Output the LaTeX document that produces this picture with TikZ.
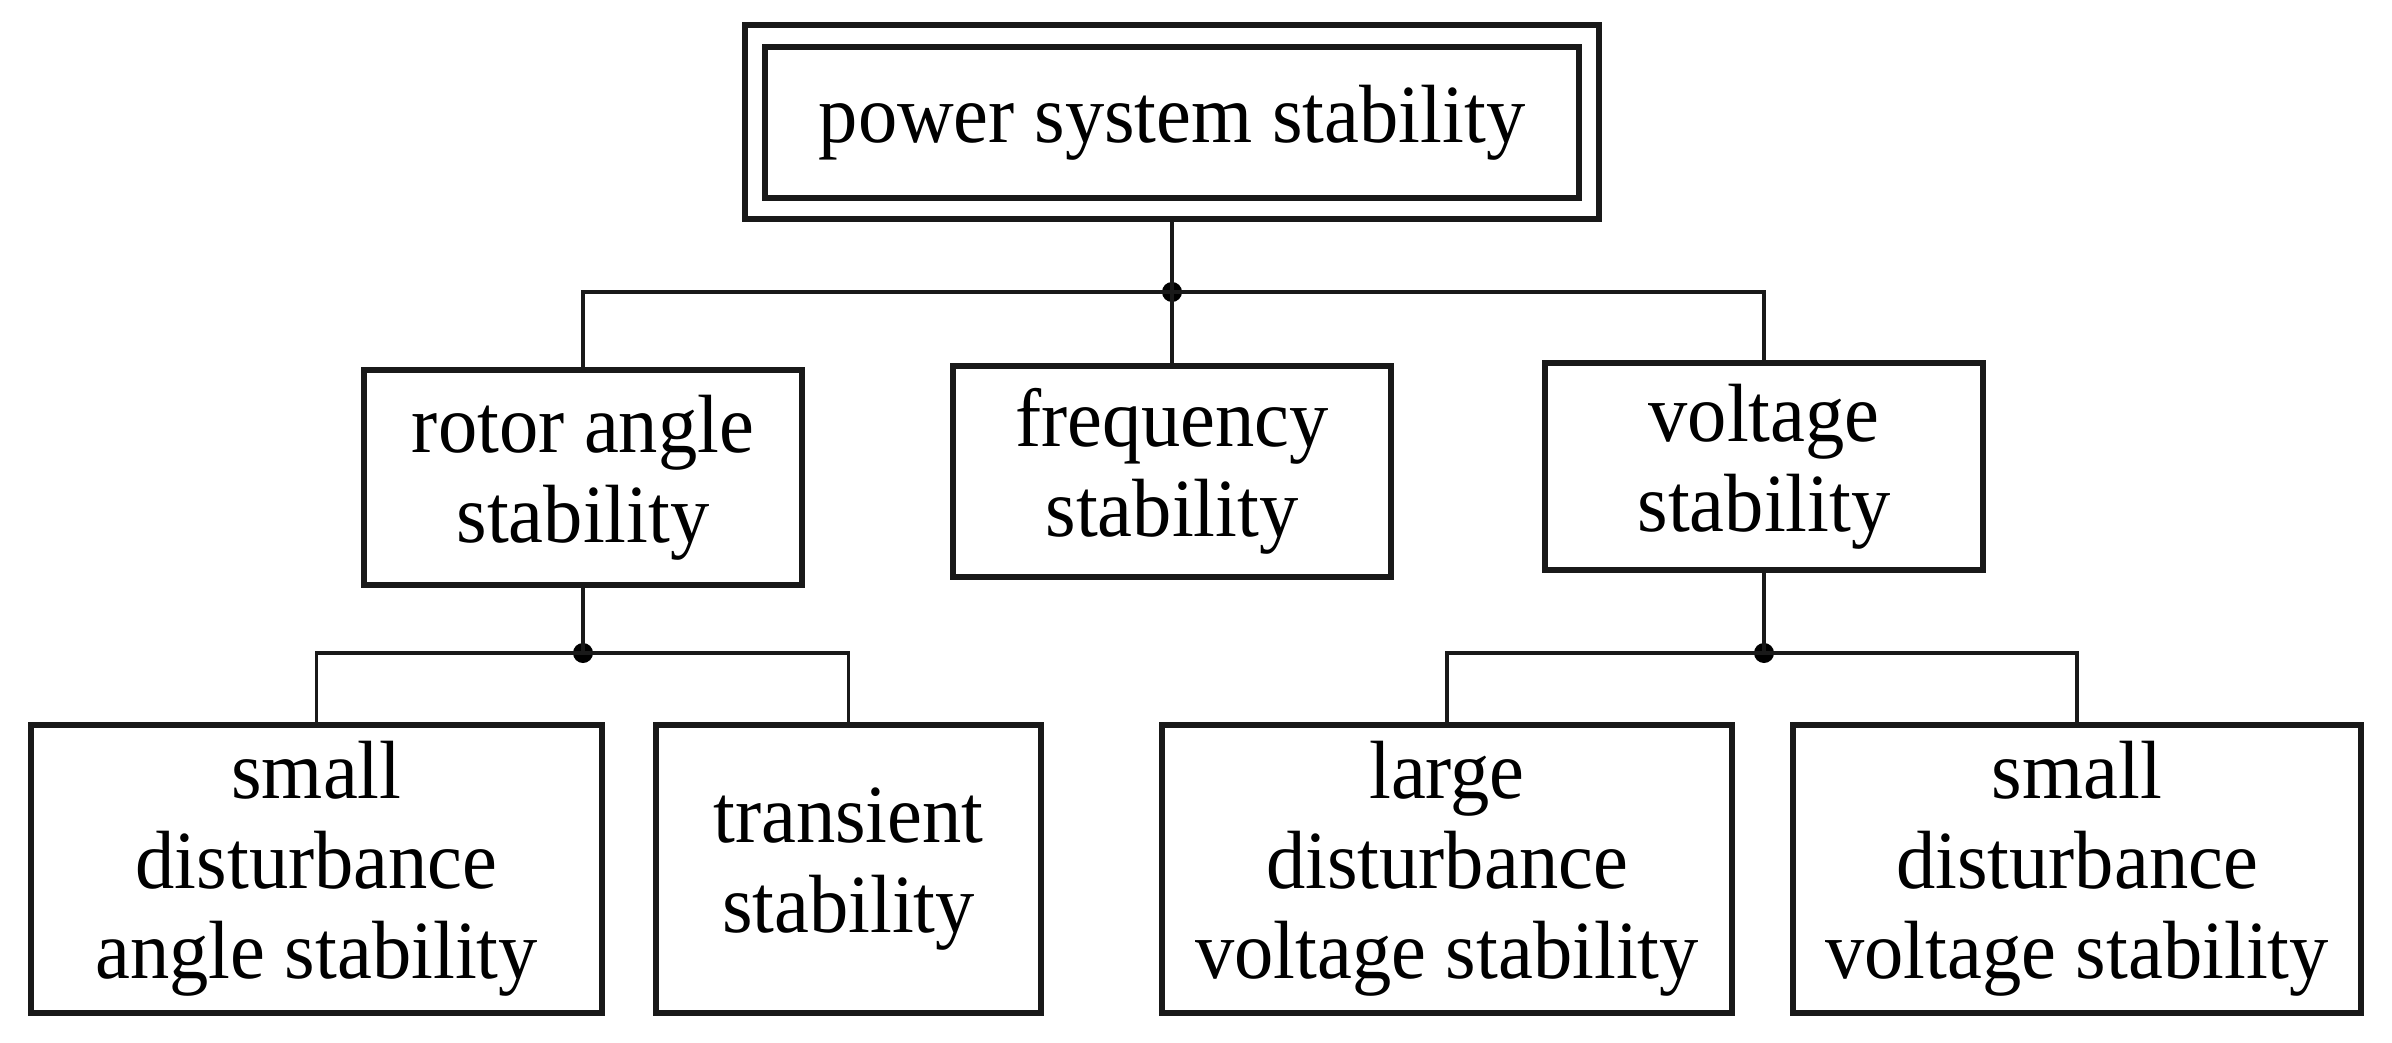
\documentclass[tikz,border=0pt]{standalone}
\usepackage{fontspec}
\setmainfont[FakeStretch=0.95]{Liberation Serif}
\begin{document}
\begin{tikzpicture}[x=0.01cm,y=-0.01cm,
  box/.style={draw=black!90, line width=1.7pt, align=center, inner sep=0pt,
    font=\fontsize{23.5}{25.6}\selectfont},
  link/.style={draw=black!90, line width=1pt},
  junc/.style={circle, fill=black, inner sep=0pt, minimum size=0.2cm}]
\useasboundingbox (0,0) rectangle (2392,1043);
% top
\node[box, minimum width=8.54cm, minimum height=1.94cm] (topouter) at (1172,122) {};
\node[box, minimum width=8.13cm, minimum height=1.51cm] (top) at (1172,122.5) {power system stability};
% level 2
\node[box, minimum width=4.37cm, minimum height=2.15cm] (rotor) at (583,477.5) {rotor angle\\stability};
\node[box, minimum width=4.37cm, minimum height=2.11cm] (freq) at (1172,471.5) {frequency\\stability};
\node[box, minimum width=4.37cm, minimum height=2.07cm] (volt) at (1764,466.5) {voltage\\stability};
% level 3
\node[box, minimum width=5.71cm, minimum height=2.88cm] (sa) at (316.5,869) {small\\disturbance\\angle stability};
\node[box, minimum width=3.85cm, minimum height=2.88cm] (tr) at (848.5,869) {transient\\stability};
\node[box, minimum width=5.70cm, minimum height=2.88cm] (ld) at (1447,869) {large\\disturbance\\voltage stability};
\node[box, minimum width=5.68cm, minimum height=2.88cm] (sv) at (2077,869) {small\\disturbance\\voltage stability};
% junctions
\node[junc] (j1) at (1172,292) {};
\node[junc] (j2) at (583,653) {};
\node[junc] (j3) at (1764,653) {};
% connectors
\draw[link] (topouter.south) -- (j1.center);
\draw[link] (rotor.north) |- (j1.center);
\draw[link] (volt.north) |- (j1.center);
\draw[link] (freq.north) -- (j1.center);
\draw[link] (rotor.south) -- (j2.center);
\draw[link] (sa.north) |- (j2.center);
\draw[link] (tr.north) |- (j2.center);
\draw[link] (volt.south) -- (j3.center);
\draw[link] (ld.north) |- (j3.center);
\draw[link] (sv.north) |- (j3.center);
\end{tikzpicture}
\end{document}
